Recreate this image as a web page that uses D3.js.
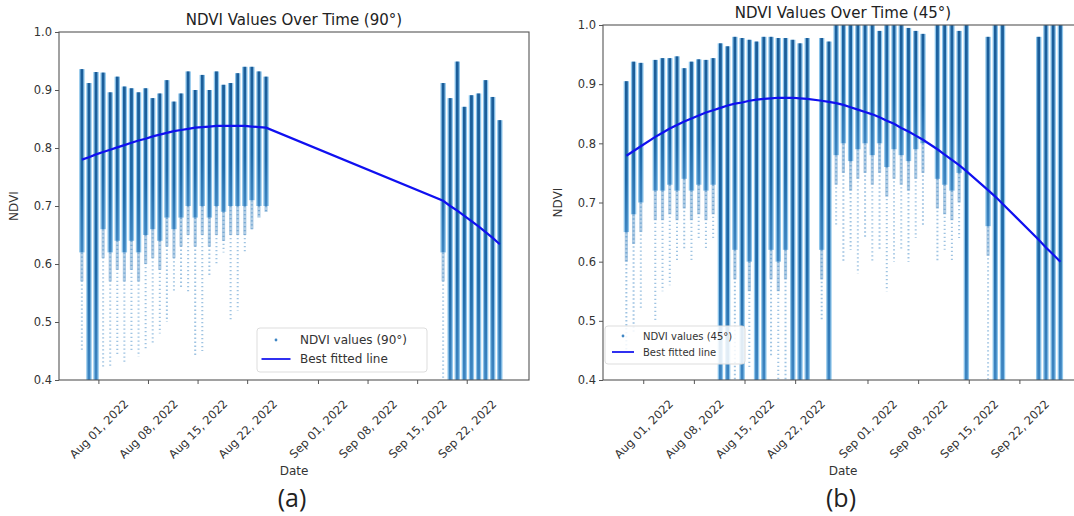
<!DOCTYPE html>
<html>
<head>
<meta charset="utf-8">
<script src="https://cdn.jsdelivr.net/npm/d3@7"></script>
<style>
  body { margin: 0; background: #fff; }
  svg { display: block; font-family: "DejaVu Sans", sans-serif; }
</style>
</head>
<body>
<svg></svg>
<script>
const width = 1074;
const height = 516;

// shared axis ticks
const xTicks = ["2022-08-01", "2022-08-08", "2022-08-15", "2022-08-22",
  "2022-09-01", "2022-09-08", "2022-09-15", "2022-09-22"];
const yTicks = [0.4, 0.5, 0.6, 0.7, 0.8, 0.9, 1.0];

// 90° camera: one strip of points per flight day
const days90 = ["2022-07-29", "2022-07-30", "2022-07-31", "2022-08-01", "2022-08-02", "2022-08-03",
  "2022-08-04", "2022-08-05", "2022-08-06", "2022-08-07", "2022-08-08", "2022-08-09", "2022-08-10",
  "2022-08-11", "2022-08-12", "2022-08-13", "2022-08-14", "2022-08-15", "2022-08-16", "2022-08-17",
  "2022-08-18", "2022-08-19", "2022-08-20", "2022-08-21", "2022-08-22", "2022-08-23", "2022-08-24",
  "2022-09-18", "2022-09-19", "2022-09-20", "2022-09-21", "2022-09-22", "2022-09-23", "2022-09-24",
  "2022-09-25", "2022-09-26"];
const max90 = [0.936, 0.912, 0.931, 0.930, 0.896, 0.923, 0.906, 0.903, 0.896, 0.903, 0.886, 0.894,
  0.917, 0.880, 0.894, 0.932, 0.900, 0.926, 0.900, 0.932, 0.909, 0.912, 0.929, 0.940, 0.940, 0.932,
  0.923, 0.912, 0.886, 0.949, 0.871, 0.891, 0.894, 0.917, 0.888, 0.848];
const dense90 = [0.62, 0.40, 0.40, 0.66, 0.62, 0.64, 0.62, 0.64, 0.62, 0.65, 0.66, 0.64, 0.68, 0.66,
  0.68, 0.70, 0.68, 0.70, 0.68, 0.70, 0.69, 0.70, 0.70, 0.70, 0.71, 0.70, 0.70, 0.62, 0.40, 0.40,
  0.40, 0.40, 0.40, 0.40, 0.40, 0.40];
const min90 = [0.45, 0.40, 0.40, 0.42, 0.42, 0.44, 0.43, 0.45, 0.44, 0.45, 0.46, 0.48, 0.50, 0.55,
  0.56, 0.55, 0.44, 0.45, 0.58, 0.60, 0.62, 0.50, 0.52, 0.62, 0.66, 0.68, 0.69, 0.40, 0.40, 0.40,
  0.40, 0.40, 0.40, 0.40, 0.40, 0.40];
const fit90 = [0.780, 0.784, 0.789, 0.793, 0.797, 0.801, 0.805, 0.809, 0.813, 0.816, 0.820, 0.823,
  0.826, 0.829, 0.831, 0.833, 0.835, 0.836, 0.837, 0.838, 0.838, 0.838, 0.838, 0.838, 0.837, 0.836,
  0.835, 0.709, 0.700, 0.692, 0.683, 0.674, 0.665, 0.655, 0.645, 0.634];

// 45° camera
const days45 = ["2022-07-29", "2022-07-30", "2022-07-31", "2022-08-02", "2022-08-03", "2022-08-04",
  "2022-08-05", "2022-08-06", "2022-08-07", "2022-08-08", "2022-08-09", "2022-08-10", "2022-08-11",
  "2022-08-12", "2022-08-13", "2022-08-14", "2022-08-15", "2022-08-16", "2022-08-17", "2022-08-18",
  "2022-08-19", "2022-08-20", "2022-08-21", "2022-08-22", "2022-08-23", "2022-08-25", "2022-08-26",
  "2022-08-27", "2022-08-28", "2022-08-29", "2022-08-30", "2022-08-31", "2022-09-01", "2022-09-02",
  "2022-09-03", "2022-09-04", "2022-09-05", "2022-09-06", "2022-09-07", "2022-09-08", "2022-09-10",
  "2022-09-11", "2022-09-12", "2022-09-13", "2022-09-14", "2022-09-17", "2022-09-18", "2022-09-19",
  "2022-09-24", "2022-09-25", "2022-09-26", "2022-09-27"];
const max45 = [0.905, 0.938, 0.936, 0.941, 0.944, 0.944, 0.947, 0.927, 0.938, 0.942, 0.941, 0.944,
  0.969, 0.964, 0.980, 0.978, 0.975, 0.972, 0.980, 0.980, 0.978, 0.978, 0.975, 0.969, 0.978, 0.978,
  0.972, 1.05, 1.05, 1.05, 1.05, 1.05, 1.05, 0.990, 1.05, 1.05, 1.000, 0.995, 0.990, 0.985, 1.05,
  1.05, 1.05, 0.990, 1.05, 0.980, 1.05, 1.05, 0.980, 1.05, 1.05, 1.05];
const dense45 = [0.65, 0.68, 0.70, 0.72, 0.72, 0.73, 0.72, 0.74, 0.72, 0.73, 0.72, 0.73, 0.40, 0.40,
  0.62, 0.40, 0.60, 0.40, 0.40, 0.62, 0.60, 0.62, 0.40, 0.40, 0.40, 0.62, 0.40, 0.78, 0.80, 0.77,
  0.79, 0.80, 0.78, 0.80, 0.76, 0.79, 0.78, 0.77, 0.79, 0.80, 0.74, 0.73, 0.72, 0.75, 0.40, 0.66,
  0.40, 0.40, 0.40, 0.40, 0.40, 0.40];
const min45 = [0.45, 0.48, 0.52, 0.50, 0.55, 0.56, 0.60, 0.62, 0.60, 0.64, 0.62, 0.64, 0.40, 0.40,
  0.40, 0.40, 0.42, 0.40, 0.40, 0.44, 0.40, 0.40, 0.40, 0.40, 0.40, 0.50, 0.40, 0.66, 0.60, 0.62,
  0.58, 0.64, 0.60, 0.62, 0.55, 0.60, 0.62, 0.60, 0.64, 0.66, 0.60, 0.62, 0.60, 0.64, 0.40, 0.40,
  0.40, 0.40, 0.40, 0.40, 0.40, 0.40];
const fit45 = [0.779, 0.787, 0.795, 0.811, 0.818, 0.825, 0.831, 0.837, 0.842, 0.847, 0.852, 0.856,
  0.860, 0.864, 0.867, 0.869, 0.872, 0.874, 0.875, 0.876, 0.877, 0.877, 0.877, 0.876, 0.875, 0.872,
  0.870, 0.868, 0.865, 0.861, 0.857, 0.853, 0.849, 0.844, 0.838, 0.833, 0.826, 0.820, 0.813, 0.806,
  0.790, 0.781, 0.772, 0.763, 0.753, 0.721, 0.710, 0.698, 0.637, 0.624, 0.612, 0.600];

const parseDay = d3.timeParse("%Y-%m-%d");
const xDomain = [new Date(2022, 6, 26, 10, 30), new Date(2022, 8, 30, 19, 0)];
const shotHour = 16; // flights were in the afternoon

const svg = d3.select("svg")
  .attr("width", width)
  .attr("height", height);

// dense band gets a bit lighter towards its lower end
const grad = svg.append("defs")
  .append("linearGradient")
  .attr("id", "coreFade")
  .attr("x1", 0).attr("y1", 0)
  .attr("x2", 0).attr("y2", 1);
grad.append("stop").attr("offset", "0%").attr("stop-color", "#1a5c98");
grad.append("stop").attr("offset", "65%").attr("stop-color", "#1f69a8");
grad.append("stop").attr("offset", "100%").attr("stop-color", "#3f86c2");

function drawPanel(p) {
  const x = d3.scaleTime().domain(xDomain).range([p.left, p.right]);
  const y = d3.scaleLinear().domain([0.4, 1.0]).range([p.bottom, p.top]);

  const rows = p.days.map((d, i) => ({
    date: d3.timeHour.offset(parseDay(d), shotHour),
    max: p.max[i],
    dense: p.dense[i],
    min: p.min[i],
    fit: p.fit[i]
  }));

  svg.append("clipPath")
    .attr("id", "clip" + p.id)
    .append("rect")
    .attr("x", p.left)
    .attr("y", p.top)
    .attr("width", p.right - p.left)
    .attr("height", p.bottom - p.top);

  const plot = svg.append("g").attr("clip-path", `url(#clip${p.id})`);

  const strip = plot.selectAll("g.strip")
    .data(rows)
    .enter()
    .append("g")
    .attr("class", "strip");

  // sparse points below the dense band
  strip.filter(d => d.min < d.dense)
    .append("line")
    .attr("x1", d => x(d.date))
    .attr("x2", d => x(d.date))
    .attr("y1", d => y(d.dense))
    .attr("y2", d => y(d.min))
    .attr("stroke", "#4f93cc")
    .attr("stroke-width", 2)
    .attr("stroke-dasharray", "1.3 2.7")
    .attr("opacity", 0.55);

  strip.filter(d => d.min < d.dense)
    .append("rect")
    .attr("x", d => x(d.date) - 1.6)
    .attr("width", 3.2)
    .attr("y", d => y(d.dense))
    .attr("height", d => y(Math.max(d.min, d.dense - 0.05)) - y(d.dense))
    .attr("fill", "#3b82bf")
    .attr("opacity", 0.4);

  strip.append("rect")
    .attr("x", d => x(d.date) - 2.7)
    .attr("width", 5.4)
    .attr("y", d => y(d.max))
    .attr("height", d => y(d.dense) - y(d.max))
    .attr("fill", "#8cc4ea");

  strip.append("rect")
    .attr("x", d => x(d.date) - 1.4)
    .attr("width", 2.8)
    .attr("y", d => y(d.max))
    .attr("height", d => y(d.dense) - y(d.max))
    .attr("fill", "url(#coreFade)");

  plot.append("path")
    .datum(rows)
    .attr("fill", "none")
    .attr("stroke", "#1010f0")
    .attr("stroke-width", 2.2)
    .attr("d", d3.line().x(d => x(d.date)).y(d => y(d.fit)));

  // frame
  svg.append("rect")
    .attr("x", p.left)
    .attr("y", p.top)
    .attr("width", p.right - p.left)
    .attr("height", p.bottom - p.top)
    .attr("fill", "none")
    .attr("stroke", "#555")
    .attr("stroke-width", 1.1);

  const gx = svg.append("g")
    .attr("transform", `translate(0,${p.bottom})`)
    .call(d3.axisBottom(x)
      .tickValues(xTicks.map(parseDay))
      .tickFormat(d3.timeFormat("%b %d, %Y"))
      .tickSize(4)
      .tickSizeOuter(0));
  gx.attr("font-family", null).attr("font-size", null);
  gx.select(".domain").remove();
  gx.selectAll("line").attr("stroke", "#555");
  gx.selectAll("text")
    .attr("y", 0)
    .attr("dy", "0.35em")
    .attr("text-anchor", "middle")
    .attr("transform", "translate(0,49) rotate(-45)")
    .attr("fill", "#333")
    .style("font-size", "11.5px");

  const gy = svg.append("g")
    .attr("transform", `translate(${p.left},0)`)
    .call(d3.axisLeft(y)
      .tickValues(yTicks)
      .tickFormat(d3.format(".1f"))
      .tickSize(4)
      .tickSizeOuter(0));
  gy.attr("font-family", null).attr("font-size", null);
  gy.select(".domain").remove();
  gy.selectAll("line").attr("stroke", "#555");
  gy.selectAll("text")
    .attr("fill", "#333")
    .style("font-size", "11.5px");

  const cx = (p.left + p.right) / 2;

  svg.append("text")
    .attr("x", cx)
    .attr("y", p.top - 7)
    .attr("text-anchor", "middle")
    .attr("fill", "#222")
    .style("font-size", "15px")
    .text(p.title);

  svg.append("text")
    .attr("transform", `translate(${p.left - 41},${(p.top + p.bottom) / 2}) rotate(-90)`)
    .attr("text-anchor", "middle")
    .attr("fill", "#333")
    .style("font-size", "12px")
    .text("NDVI");

  svg.append("text")
    .attr("x", cx)
    .attr("y", 475)
    .attr("text-anchor", "middle")
    .attr("fill", "#333")
    .style("font-size", "12px")
    .text("Date");

  svg.append("text")
    .attr("x", cx - 2)
    .attr("y", 507)
    .attr("text-anchor", "middle")
    .attr("fill", "#222")
    .style("font-family", "'Open Sans', sans-serif")
    .style("font-size", "25px")
    .text(p.caption);

  // legend
  const lg = p.legend;
  const leg = svg.append("g").attr("transform", `translate(${lg.x},${lg.y})`);
  leg.append("rect")
    .attr("width", lg.w)
    .attr("height", lg.h)
    .attr("rx", 3)
    .attr("fill", "#fff")
    .attr("fill-opacity", 0.85)
    .attr("stroke", "#ddd");
  leg.append("circle")
    .attr("cx", lg.key)
    .attr("cy", lg.row1)
    .attr("r", 1.4)
    .attr("fill", "#3f86c4");
  leg.append("line")
    .attr("x1", lg.key - lg.line / 2)
    .attr("x2", lg.key + lg.line / 2)
    .attr("y1", lg.row2)
    .attr("y2", lg.row2)
    .attr("stroke", "#3030f0")
    .attr("stroke-width", 2);
  leg.append("text")
    .attr("x", lg.text)
    .attr("y", lg.row1)
    .attr("dy", "0.35em")
    .attr("fill", "#333")
    .style("font-size", lg.font + "px")
    .text(p.label);
  leg.append("text")
    .attr("x", lg.text)
    .attr("y", lg.row2)
    .attr("dy", "0.35em")
    .attr("fill", "#333")
    .style("font-size", lg.font + "px")
    .text("Best fitted line");
}

drawPanel({
  id: "a", left: 59, right: 529, top: 32, bottom: 380,
  days: days90, max: max90, dense: dense90, min: min90, fit: fit90,
  title: "NDVI Values Over Time (90°)", label: "NDVI values (90°)", caption: "(a)",
  legend: { x: 257, y: 328, w: 170, h: 44, key: 19, line: 29, text: 43, row1: 12, row2: 31, font: 12 }
});

drawPanel({
  id: "b", left: 603, right: 1083, top: 25, bottom: 380,
  days: days45, max: max45, dense: dense45, min: min45, fit: fit45,
  title: "NDVI Values Over Time (45°)", label: "NDVI values (45°)", caption: "(b)",
  legend: { x: 605, y: 326, w: 140, h: 38, key: 18, line: 22, text: 38, row1: 10, row2: 26, font: 10 }
});
</script>
</body>
</html>
